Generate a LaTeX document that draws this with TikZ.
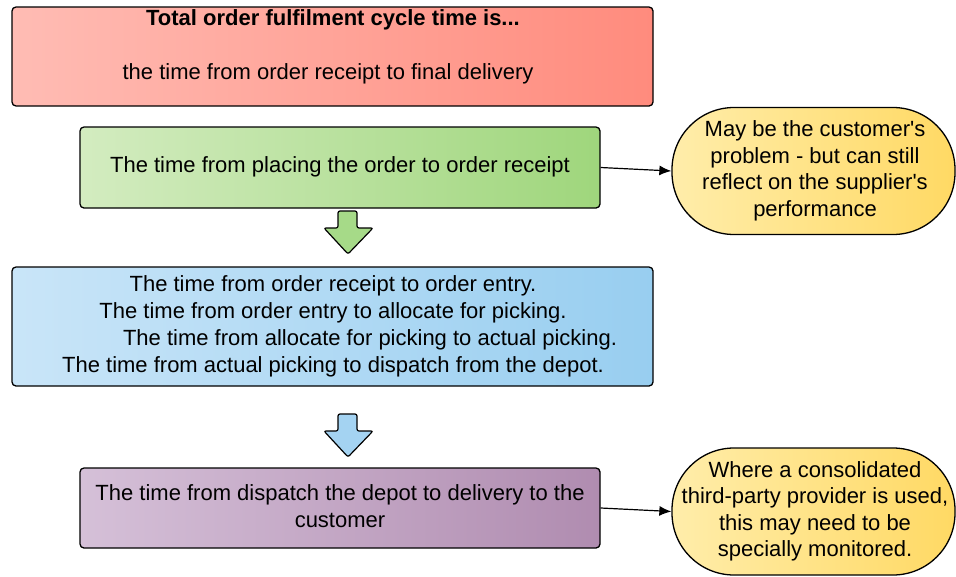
\documentclass[tikz,border=0pt]{standalone}
\usepackage{fontspec}
\setmainfont{Liberation Sans}
\usetikzlibrary{arrows.meta}
\definecolor{redL}{HTML}{FFBCB4}
\definecolor{redR}{HTML}{FF8B7D}
\definecolor{grnL}{HTML}{D3ECC0}
\definecolor{grnR}{HTML}{9FD67C}
\definecolor{bluL}{HTML}{C9E5F8}
\definecolor{bluR}{HTML}{98CEF0}
\definecolor{purL}{HTML}{D5C0D8}
\definecolor{purR}{HTML}{B08CB0}
\definecolor{ylwL}{HTML}{FFEDAA}
\definecolor{ylwR}{HTML}{FFD964}
\definecolor{grnArrow}{HTML}{A6DA88}
\definecolor{bluArrow}{HTML}{A4D3F2}
\newcommand{\apos}{\textquotesingle}
\begin{document}
\begin{tikzpicture}[x=1pt,y=-1pt,
  panel/.style={draw=black,line width=1.3pt,rounded corners=4pt,inner sep=0pt},
  callout/.style={draw=black,line width=1.3pt,rounded corners=62pt,inner sep=0pt,
    minimum width=283pt,minimum height=127pt,left color=ylwL,right color=ylwR},
  label/.style={font=\fontsize{22}{26.5}\selectfont,align=center,inner sep=0pt},
  downarrow/.style={draw=black,line width=1.2pt,rounded corners=2pt},
  link/.style={draw=black,line width=1.2pt,-{Latex[length=12pt,width=10pt]}}]
\useasboundingbox (0,0) rectangle (956,576);

% stacked time panels
\node[panel,minimum width=641pt,minimum height=99pt,left color=redL,right color=redR]
  (total) at (332.5,56.5) {};
\node[label] (totalTitle) at (333,20) {\textbf{Total order fulfilment cycle time is...}};
\node[label] (totalText) at (328,74) {the time from order receipt to final delivery};

\node[panel,minimum width=520pt,minimum height=81pt,left color=grnL,right color=grnR]
  (placing) at (340,167.5) {};
\node[label] (placingText) at (340,167) {The time from placing the order to order receipt};

\node[panel,minimum width=641pt,minimum height=119pt,left color=bluL,right color=bluR]
  (depot) at (332.5,326.5) {};
\node[label,font=\fontsize{22}{27}\selectfont] (depotText) at (333,326) {The time from order receipt to order entry.\\
  The time from order entry to allocate for picking.\\
  \hspace*{74pt}The time from allocate for picking to actual picking.\\
  The time from actual picking to dispatch from the depot.};

\node[panel,minimum width=520pt,minimum height=80pt,left color=purL,right color=purR]
  (delivery) at (340,508) {};
\node[label] (deliveryText) at (340,506) {The time from dispatch the depot to delivery to the\\customer};

% block arrows between panels
\draw[downarrow,fill=grnArrow] (338,211) -- (357,211) -- (357,228) -- (373,228)
  -- (348,254) -- (324,228) -- (338,228) -- cycle;
\draw[downarrow,fill=bluArrow] (338,414) -- (357,414) -- (357,431) -- (373,431)
  -- (348,457) -- (324,431) -- (338,431) -- cycle;

% side notes
\node[callout] (note1) at (813.5,171) {};
\node[label] (note1Text) at (815,171) {May be the customer\apos s\\problem - but can still\\reflect on the supplier\apos s\\performance};

\node[callout] (note2) at (813.5,511.5) {};
\node[label] (note2Text) at (815,511.5) {Where a consolidated\\third-party provider is used,\\this may need to be\\specially monitored.};

\draw[link] (placing.east) -- (note1.west);
\draw[link] (delivery.east) -- (note2.west);
\end{tikzpicture}
\end{document}
